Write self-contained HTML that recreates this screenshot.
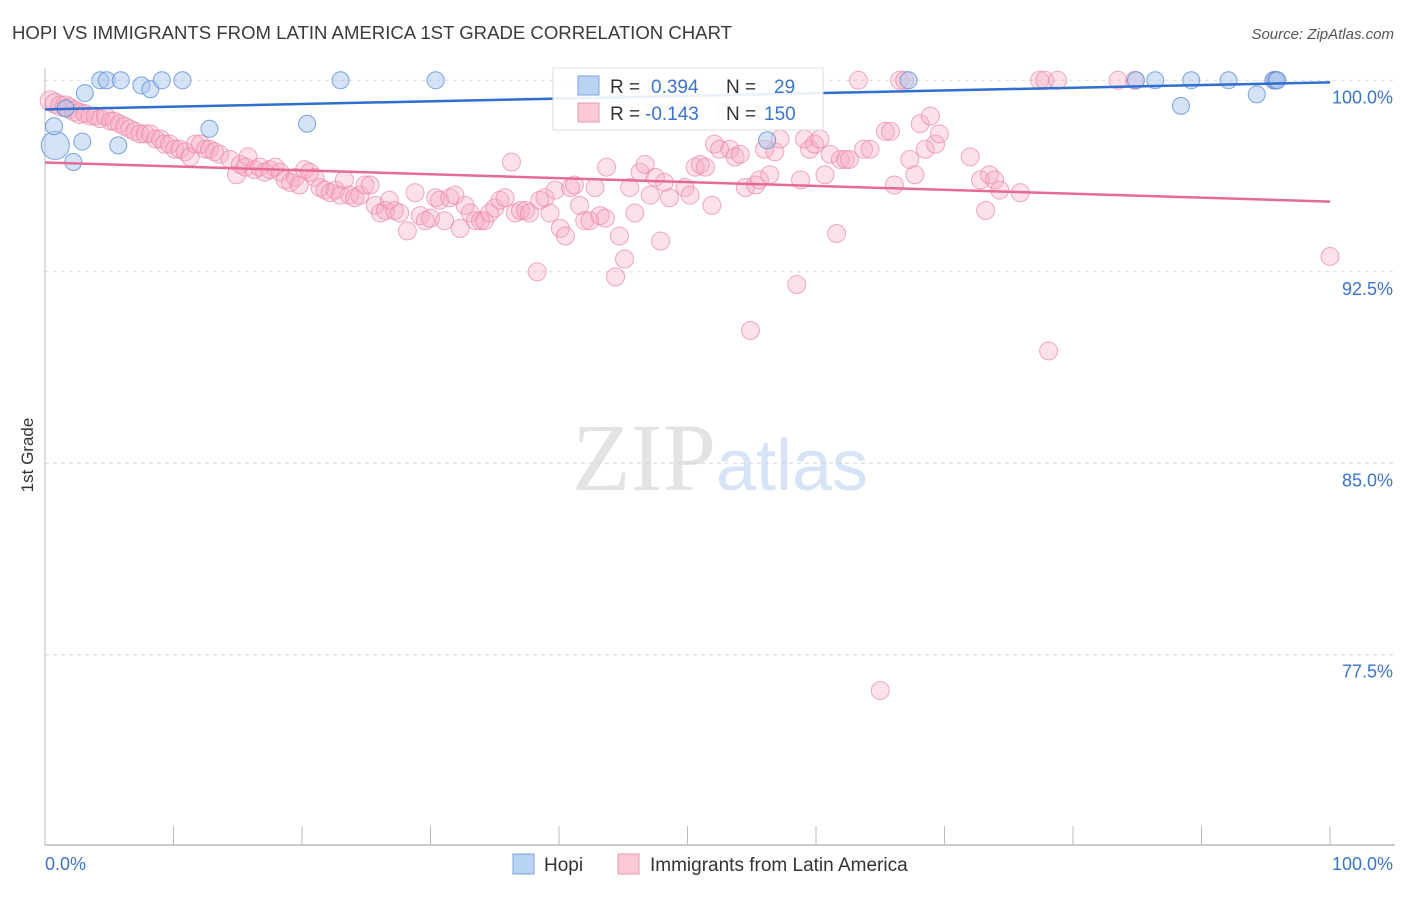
<!DOCTYPE html>
<html><head><meta charset="utf-8"><style>
body{margin:0;background:#fff;font-family:"Liberation Sans",sans-serif;}
svg text{font-family:"Liberation Sans",sans-serif;}
</style></head><body>
<svg id="chart" width="1406" height="892" xmlns="http://www.w3.org/2000/svg">
<text x="12" y="39" font-size="18" fill="#3a3a3a" textLength="720" lengthAdjust="spacingAndGlyphs">HOPI VS IMMIGRANTS FROM LATIN AMERICA 1ST GRADE CORRELATION CHART</text>
<text x="1394" y="39" font-size="15" fill="#555" text-anchor="end" font-style="italic">Source: ZipAtlas.com</text>
<text x="720" y="490" font-size="96" text-anchor="middle"><tspan fill="#e3e3e3" font-family="Liberation Serif">ZIP</tspan><tspan fill="#d6e4f5" font-size="72">atlas</tspan></text>
<text transform="translate(33,455) rotate(-90)" font-size="17" fill="#333" text-anchor="middle">1st Grade</text>
<g id="grid"></g><g id="pink"></g><g id="blue"></g><g id="lines"></g>
<g>
<rect x="553" y="68" width="270" height="62" fill="#fff" fill-opacity="0.9" stroke="#ddd"/>
<rect x="578" y="76" width="21" height="19" fill="#b9d3f3" stroke="#7aa6df"/>
<rect x="578" y="103" width="21" height="19" fill="#fbc8d6" stroke="#ee9ab2"/>
<text x="610" y="93" font-size="19" fill="#333">R = </text><text x="651" y="93" font-size="19" fill="#3a74cf">0.394</text>
<text x="726" y="93" font-size="19" fill="#333">N = </text><text x="774" y="93" font-size="19" fill="#3a74cf">29</text>
<text x="610" y="120" font-size="19" fill="#333">R = </text><text x="645" y="120" font-size="19" fill="#3a74cf">-0.143</text>
<text x="726" y="120" font-size="19" fill="#333">N = </text><text x="764" y="120" font-size="19" fill="#3a74cf">150</text>
</g>
<g>
<rect x="513" y="854" width="21" height="20" fill="#b9d3f3" stroke="#7aa6df"/>
<text x="544" y="871" font-size="19" fill="#333">Hopi</text>
<rect x="618" y="854" width="21" height="20" fill="#fbc8d6" stroke="#ee9ab2"/>
<text x="650" y="871" font-size="19" fill="#333">Immigrants from Latin America</text>
</g>
</svg>
<script>
const xTicks=[0,10,20,30,40,50,60,70,80,90,100];
const yTicks=[100,92.5,85,77.5];
const yTickLabels=["100.0%","92.5%","85.0%","77.5%"];
const xLabels=["0.0%","100.0%"];
const hopiX=[0.8,0.7,1.6,2.2,2.9,3.1,4.3,4.8,5.9,5.7,7.5,8.2,9.1,10.7,12.8,20.4,23,30.4,56.2,67.2,84.9,86.4,88.4,89.2,92.1,94.3,95.6,95.8,95.9];
const hopiY=[97.45,98.2,98.9,96.8,97.6,99.5,100,100,100,97.45,99.8,99.65,100,100,98.1,98.3,100,100,97.65,100,100,100,99,100,100,99.45,100,100,100];
const latinX=[
0.4,0.8,1.2,1.6,1.9,2.3,2.7,3.1,3.5,3.9,
4.3,4.7,5.1,5.4,5.8,6.2,6.6,7.0,7.4,7.8,
8.2,8.6,9.0,9.3,9.7,10.1,10.5,10.9,11.3,11.7,
12.1,12.5,12.8,13.2,13.6,14.4,14.9,15.2,15.6,15.8,
16.3,16.7,17.1,17.5,17.9,18.3,18.7,19.1,19.5,19.8,
20.2,20.6,21.0,21.4,21.8,22.2,22.6,23.0,23.3,23.7,
24.1,24.5,24.9,25.3,25.7,26.1,26.5,26.8,27.2,27.6,
28.2,28.8,29.2,29.6,30.0,30.4,30.7,31.1,31.5,31.9,
32.3,32.7,33.1,33.5,33.9,34.2,34.6,35.0,35.4,35.8,
36.3,36.6,37.0,37.4,37.7,38.3,38.5,38.9,39.3,39.7,
40.1,40.5,40.9,41.2,41.6,42.0,42.4,42.8,43.2,43.6,
43.7,44.4,44.7,45.1,45.5,45.9,46.3,46.7,47.1,47.5,
47.9,48.2,48.6,49.0,49.4,49.8,50.2,50.6,51.0,51.4,
51.9,52.1,52.5,52.9,53.3,53.7,54.1,54.5,54.9,55.3,
55.6,56.0,56.4,56.8,57.2,58.5,58.8,59.1,59.5,59.9,
60.3,60.7,61.1,61.6,61.9,62.3,62.6,63.3,63.7,64.2,
65.0,65.4,65.8,66.1,66.5,66.9,67.3,67.7,68.1,68.5,
68.9,69.3,69.6,72.0,72.8,73.2,73.5,73.9,74.3,75.9,
77.4,77.8,78.1,78.8,83.5,84.8,95.7,100];
const latinY=[
99.2,99.1,99.0,99.0,98.9,98.8,98.7,98.7,98.6,98.6,
98.5,98.6,98.4,98.4,98.3,98.2,98.1,98.0,97.9,97.9,
97.9,97.7,97.7,97.5,97.5,97.3,97.3,97.2,97.0,97.5,
97.5,97.3,97.3,97.2,97.1,96.9,96.3,96.7,96.6,97.0,
96.5,96.6,96.4,96.5,96.6,96.4,96.1,96.0,96.2,95.9,
96.5,96.4,96.2,95.8,95.7,95.6,95.7,95.5,96.1,95.5,
95.4,95.5,95.9,95.9,95.1,94.8,94.9,95.3,94.9,94.8,
94.1,95.6,94.7,94.5,94.6,95.4,95.3,94.5,95.4,95.5,
94.2,95.1,94.8,94.5,94.5,94.5,94.8,95.0,95.3,95.4,
96.8,94.8,94.9,94.9,94.8,92.5,95.3,95.4,94.8,95.7,
94.2,93.9,95.8,95.9,95.1,94.5,94.5,95.8,94.7,94.6,
96.6,92.3,93.9,93.0,95.8,94.8,96.4,96.7,95.5,96.2,
93.7,96.0,95.4,98.8,98.8,95.8,95.5,96.6,96.7,96.6,
95.1,97.5,97.3,98.8,97.3,97.0,97.1,95.8,90.2,95.9,
96.1,97.3,96.3,97.2,97.7,92.0,96.1,97.7,97.3,97.5,
97.7,96.3,97.1,94.0,96.9,96.9,96.9,100,97.3,97.3,
76.1,98.0,98.0,95.9,100,100,96.9,96.3,98.3,97.3,
98.6,97.5,97.9,97.0,96.1,94.9,96.3,96.1,95.7,95.6,
100,100,89.4,100,100,100,100,93.1];
const hopiLine=[98.86,99.92];
const latinLine=[96.78,95.25];
const NS="http://www.w3.org/2000/svg";
const X=v=>45+v*12.85;
const Y=v=>80.3+(100-v)*25.53;
function mk(tag,parent,attrs){const e=document.createElementNS(NS,tag);for(const k in attrs)e.setAttribute(k,attrs[k]);document.getElementById(parent).appendChild(e);return e;}
yTicks.forEach((t,i)=>{
 const g=mk('line','grid',{x1:45,x2:1395,y1:Y(t),y2:Y(t),stroke:'#d8d8d8','stroke-dasharray':'4,4'});
 
 
 const tx=mk('text','grid',{x:1393,y:Y(t)+23,'font-size':18,fill:'#3a74cf','text-anchor':'end'});
 tx.textContent=yTickLabels[i];
 
 
});
const ax=mk('line','grid',{x1:45,x2:45,y1:68,y2:845,stroke:'#bbb'});


const bx=mk('line','grid',{x1:45,x2:1395,y1:845,y2:845,stroke:'#bbb','stroke-width':1.5});


xTicks.forEach(t=>{
 const l=mk('line','grid',{x1:X(t),x2:X(t),y1:826,y2:845,stroke:'#bbb'});
 
 
});
[[0,'start'],[100,'end']].forEach((p,i)=>{
 const tx=mk('text','grid',{x:i?1393:45,y:870,'font-size':18,fill:'#3a74cf','text-anchor':p[1]});
 tx.textContent=xLabels[i];
 
 
});
const nPink=Math.min(latinX.length,latinY.length);
for(let i=0;i<nPink;i++){
 const x=latinX[i];
 const c=mk('circle','pink',{cx:X(x),cy:Y(latinY[i]),r:x<3?10:9,fill:'#f7a8c0','fill-opacity':0.35,stroke:'#ea86a6','stroke-opacity':0.7});
 
 
}
hopiX.forEach((x,i)=>{
 const c=mk('circle','blue',{cx:X(x),cy:Y(hopiY[i]),r:i==0?14:8.5,fill:'#a9c8f0','fill-opacity':0.5,stroke:'#5b8fd8','stroke-opacity':0.8});
 
 
});
const l1=mk('line','lines',{x1:X(0),x2:X(100),y1:Y(hopiLine[0]),y2:Y(hopiLine[1]),stroke:'#2f6fd0','stroke-width':2.5});


const l2=mk('line','lines',{x1:X(0),x2:X(100),y1:Y(latinLine[0]),y2:Y(latinLine[1]),stroke:'#e56b93','stroke-width':2.5});


</script>
</body></html>
